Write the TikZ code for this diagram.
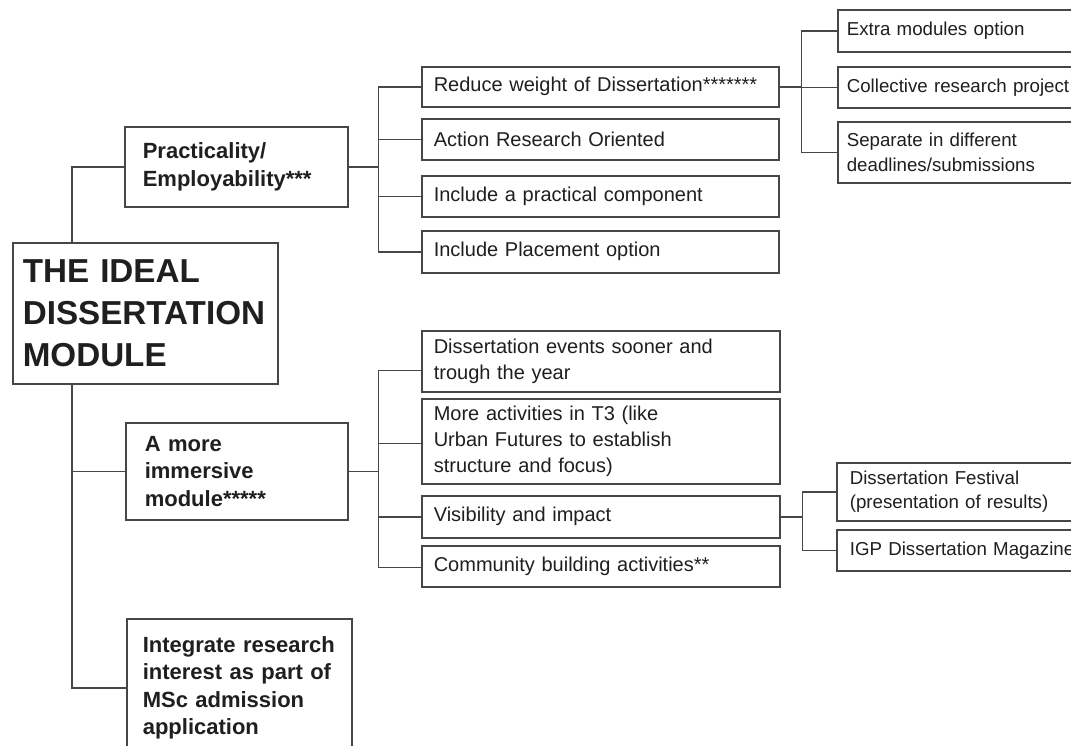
\documentclass[tikz,border=0pt]{standalone}
\usepackage{fontspec}
\setmainfont{Liberation Sans}

\tikzset{
  box/.style={draw=black!72, line width=1.6pt, anchor=north west, align=left,
    text=black!88, inner ysep=2pt},
  rootbox/.style={box, font=\fontsize{33.2}{42}\selectfont\bfseries,
    inner xsep=10pt, text width=245pt},
  themebox/.style={box, font=\fontsize{22}{27.5}\selectfont\bfseries},
  ideabox/.style={box, font=\fontsize{20}{26}\selectfont,
    inner xsep=12pt, text width=333pt},
  optionbox/.style={box, font=\fontsize{18.7}{24.5}\selectfont,
    inner xsep=9pt, text width=260pt},
  link/.style={draw=black!72, line width=1.6pt}
}

\begin{document}
\begin{tikzpicture}[x=1pt,y=-1pt]
  % area visivel (as caixas da direita saem da imagem)
  \useasboundingbox (0,0) rectangle (1071,745);
  \clip (0,0) rectangle (1071,745);
  \fill[white] (0,0) rectangle (1071,745);

  % caixa central
  \node[rootbox, minimum height=141pt] (root) at (12,242)
    {THE IDEAL\\DISSERTATION\\MODULE};

  % temas principais
  \node[themebox, inner xsep=18pt, text width=187pt, minimum height=80pt] (practical) at (124,126)
    {Practicality/\\Employability***};
  \node[themebox, inner xsep=19pt, text width=184pt, minimum height=97pt] (immersive) at (125,422)
    {A more\\immersive\\module*****};
  \node[themebox, inner xsep=16pt, text width=193pt, minimum height=138pt] (admission) at (126,618)
    {Integrate research\\interest as part of\\MSc admission\\application};

  % ideias do primeiro tema
  \node[ideabox, minimum height=40pt] (weight) at (421,66) {Reduce weight of Dissertation*******};
  \node[ideabox, minimum height=41pt] (action) at (421,118) {Action Research Oriented};
  \node[ideabox, minimum height=41pt] (component) at (421,175) {Include a practical component};
  \node[ideabox, minimum height=42pt] (placement) at (421,230) {Include Placement option};

  % ideias do segundo tema
  \node[ideabox, text width=334pt, minimum height=61pt] (events) at (421,330)
    {Dissertation events sooner and\\trough the year};
  \node[ideabox, text width=334pt, minimum height=85pt] (activities) at (421,398)
    {More activities in T3 (like\\Urban Futures to establish\\structure and focus)};
  \node[ideabox, text width=334pt, minimum height=42pt] (visibility) at (421,495) {Visibility and impact};
  \node[ideabox, text width=334pt, minimum height=41pt] (community) at (421,545) {Community building activities**};

  % opcoes (terceiro nivel)
  \node[optionbox, minimum height=42pt] (extra) at (837,9) {Extra modules option};
  \node[optionbox, minimum height=41pt] (collective) at (837,66) {Collective research project};
  \node[optionbox, minimum height=61pt] (separate) at (837,121)
    {Separate in different\\deadlines/submissions};
  \node[optionbox, inner xsep=13pt, minimum height=58pt] (festival) at (836,462)
    {Dissertation Festival\\(presentation of results)};
  \node[optionbox, inner xsep=13pt, minimum height=41pt] (magazine) at (836,529)
    {IGP Dissertation Magazine};

  % tronco da caixa central
  \draw[link] ([xshift=60pt]root.north west) |- (practical.west);
  \draw[link] ([xshift=60pt]root.south west) |- (immersive.west);
  \draw[link] ([xshift=60pt]root.south west) |- (admission.west);

  % barramentos
  \coordinate (busA) at ([xshift=30pt]practical.east);
  \coordinate (busB) at ([xshift=30pt]immersive.east);
  \coordinate (busC) at ([xshift=22pt]weight.east);
  \coordinate (busD) at ([xshift=22pt]visibility.east);

  \draw[link] (practical.east) -- (busA);
  \foreach \n in {weight,action,component,placement}
    \draw[link] (busA) |- (\n.west);

  \draw[link] (immersive.east) -- (busB);
  \foreach \n/\s in {events/-9,activities/-2,visibility/0,community/-1}
    \draw[link] (busB) |- ([yshift=\s pt]\n.west);

  \draw[link] (weight.east) -- (busC);
  \foreach \n in {extra,collective,separate}
    \draw[link] (busC) |- (\n.west);

  \draw[link] (visibility.east) -- (busD);
  \foreach \n in {festival,magazine}
    \draw[link] (busD) |- (\n.west);
\end{tikzpicture}
\end{document}
